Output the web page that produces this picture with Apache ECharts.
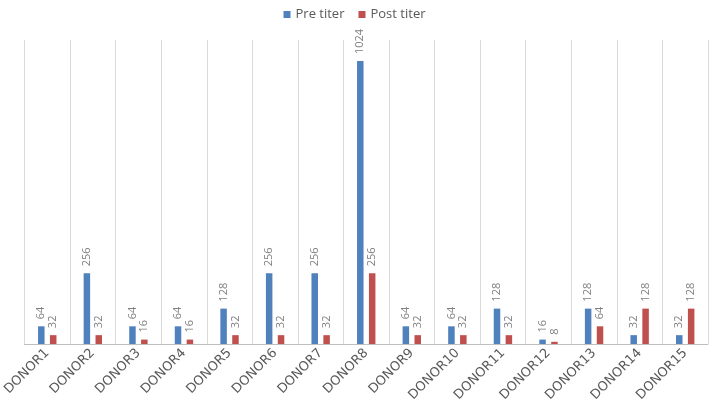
<!DOCTYPE html>
<html>
<head>
<meta charset="utf-8">
<script src="https://cdn.jsdelivr.net/npm/echarts@6/dist/echarts.min.js"></script>
<style>html,body{margin:0;padding:0;background:#fff}#c{width:709px;height:409px}</style>
</head>
<body>
<div id="c"></div>
<script>
const categories = ['DONOR1','DONOR2','DONOR3','DONOR4','DONOR5','DONOR6','DONOR7','DONOR8','DONOR9','DONOR10','DONOR11','DONOR12','DONOR13','DONOR14','DONOR15'];
const preTiter = [64,256,64,64,128,256,256,1024,64,64,128,16,128,32,32];
const postTiter = [32,32,16,16,32,32,32,256,32,32,32,8,64,128,128];
const seriesNames = ['Pre titer','Post titer'];

const chart = echarts.init(document.getElementById('c'), null, {renderer:'canvas'});
const labelCfg = {
  show: true, position: 'top', rotate: 90, align: 'left', verticalAlign: 'middle',
  distance: 7, color: '#7f7f7f', fontSize: 11, fontFamily: 'Open Sans'
};
chart.setOption({
  animation: false,
  textStyle: {fontFamily: 'Open Sans'},
  legend: {
    top: 3, left: 'center', itemWidth: 7, itemHeight: 7, itemGap: 14,
    icon: 'rect',
    textStyle: {fontSize: 13, color: '#595959', fontFamily: 'Open Sans'},
    data: seriesNames
  },
  grid: {left: 21, right: 1, top: 40, bottom: 65, containLabel: false},
  xAxis: {
    type: 'category', data: categories, boundaryGap: true,
    axisLine: {show: true, lineStyle: {color: '#bfbfbf', width: 1}},
    axisTick: {show: false},
    splitLine: {show: true, lineStyle: {color: '#d9d9d9', width: 1}},
    axisLabel: {rotate: 45, margin: 7, color: '#595959', fontSize: 13, fontFamily: 'DejaVu Sans', interval: 0}
  },
  yAxis: {
    type: 'value', min: 0, max: 1100, show: false,
    splitLine: {show: false}
  },
  series: [
    {name: seriesNames[0], type: 'bar', data: preTiter, barWidth: 6.5, barGap: '83%',
     itemStyle: {color: '#4f81bd'}, label: labelCfg},
    {name: seriesNames[1], type: 'bar', data: postTiter, barWidth: 6.5, barGap: '83%',
     itemStyle: {color: '#c0504d'}, label: labelCfg}
  ]
});
</script>
</body>
</html>
